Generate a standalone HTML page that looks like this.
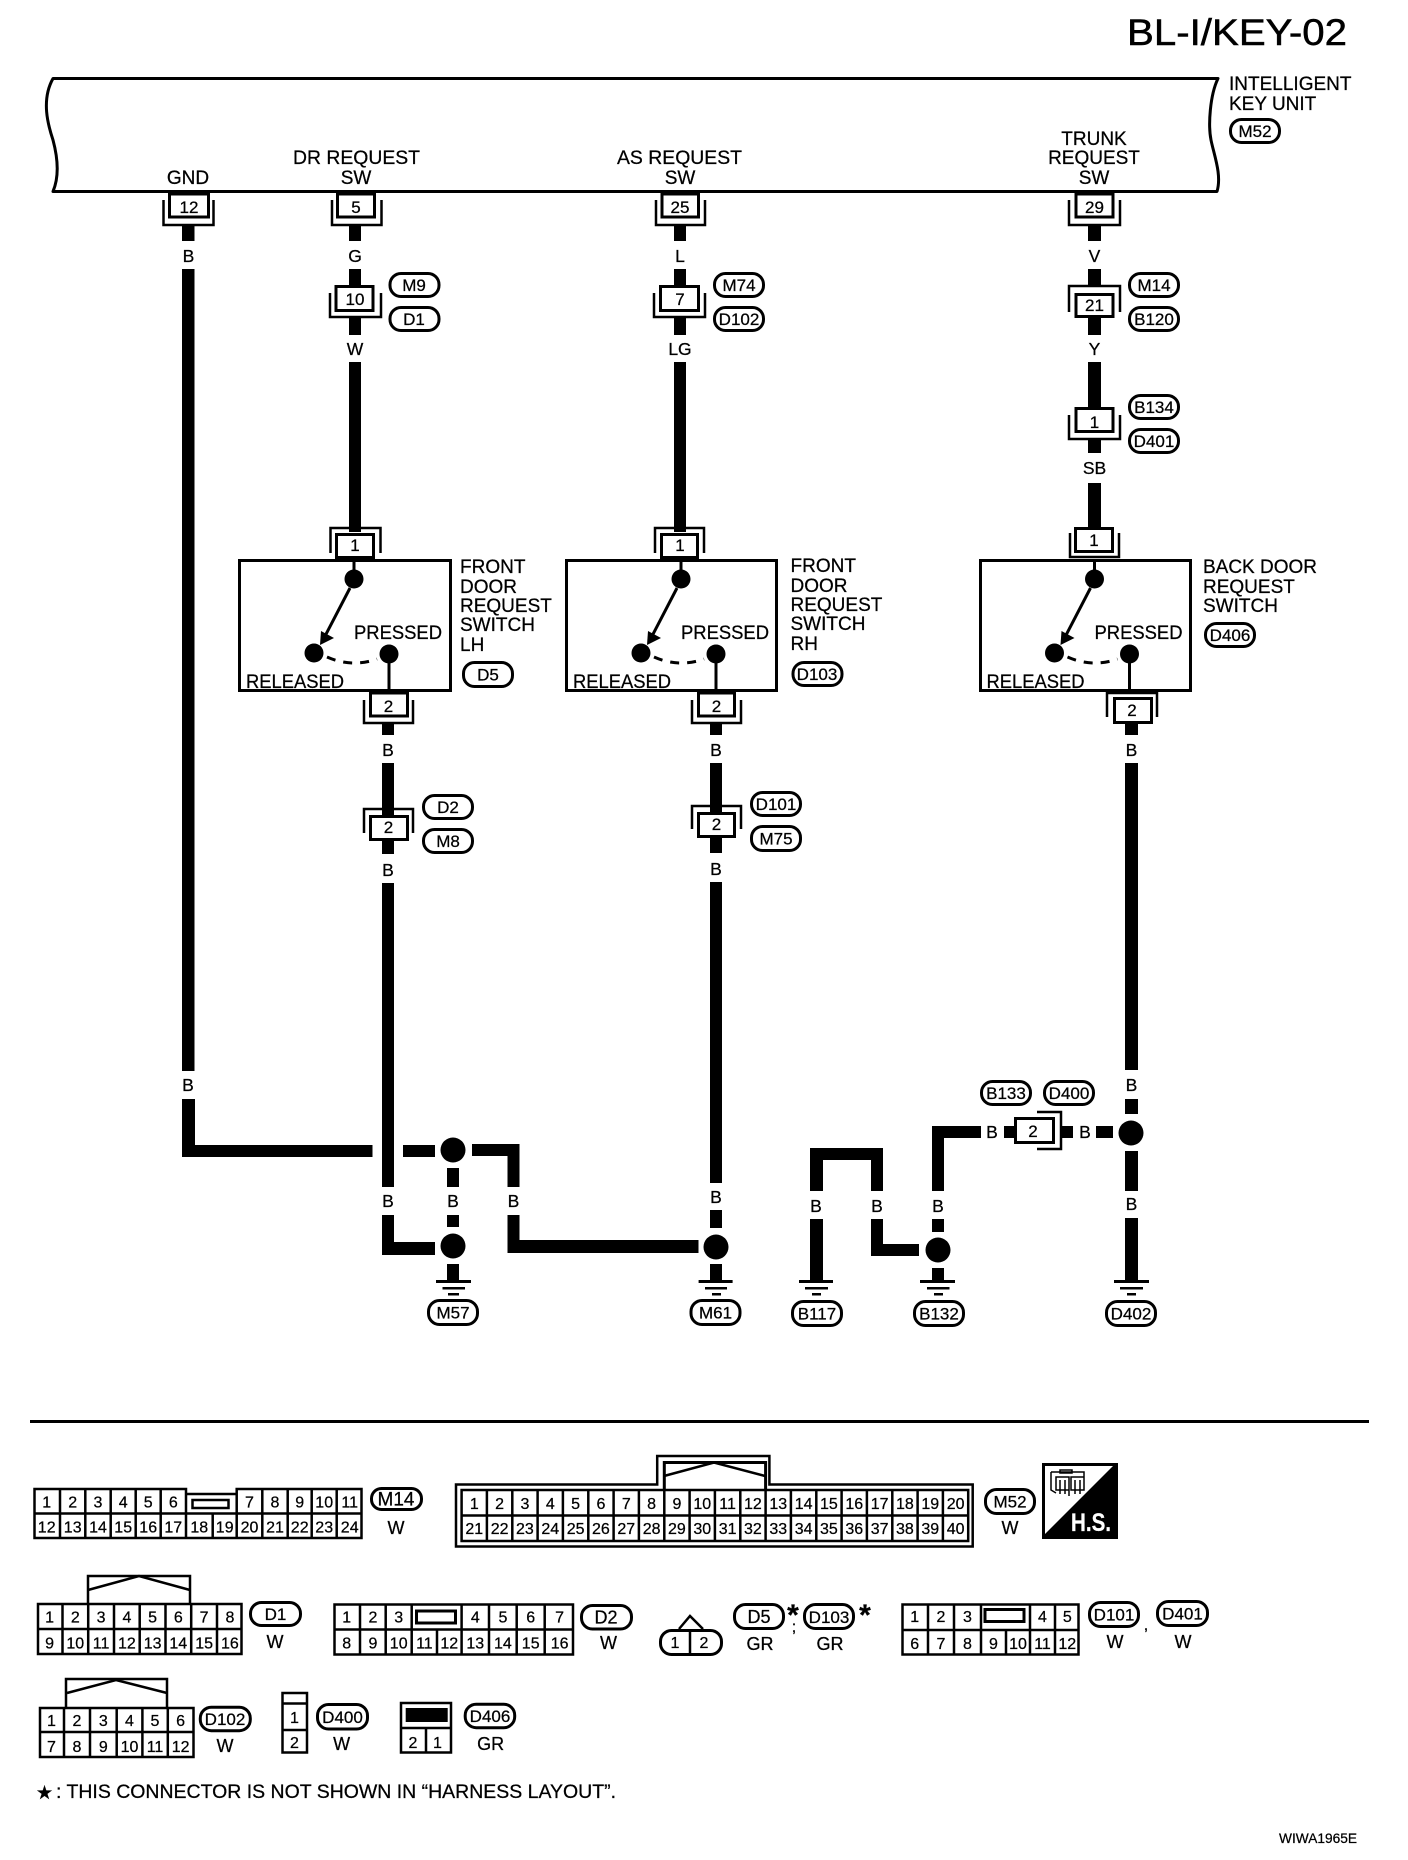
<!DOCTYPE html>
<html><head><meta charset="utf-8"><title>BL-I/KEY-02</title>
<style>
html,body{margin:0;padding:0;background:#fff;width:1408px;height:1860px;overflow:hidden}
svg{display:block}
text{font-family:"Liberation Sans","DejaVu Sans",sans-serif;fill:#000;font-size:19px;stroke:#000;stroke-width:.25px}
.m{text-anchor:middle}
.w{font-size:17.5px;text-anchor:middle}
.n{font-size:17px;text-anchor:middle}
.c{font-size:16px;text-anchor:middle}
.t{font-size:17px;text-anchor:middle}
.s{fill:none;stroke:#000;stroke-width:3}
.b{fill:#fff;stroke:#000;stroke-width:3}
.u{fill:none;stroke:#000;stroke-width:2.5}
.g{fill:none;stroke:#000;stroke-width:2.5}
.tag{fill:#fff;stroke:#000;stroke-width:3}
.st{font-size:30px;font-weight:bold;text-anchor:middle}
</style></head><body>
<svg xmlns="http://www.w3.org/2000/svg" width="1408" height="1860" viewBox="0 0 1408 1860">
<rect width="1408" height="1860" fill="#fff"/>
<text x="1127" y="45" style="font-size:37.5px;stroke-width:.5px" textLength="220" lengthAdjust="spacingAndGlyphs">BL-I/KEY-02</text>

<!-- unit -->
<path class="s" d="M53,78.5 H1218 C1210,95 1208,125 1211,140 C1214,155 1222,175 1217,191.5 H53 C60,175 57,155 53,140 C48,125 41,100 53,78.5 Z" stroke-linejoin="round"/>
<text x="188" y="184" class="m">GND</text>
<text x="293" y="164" textLength="127" lengthAdjust="spacingAndGlyphs">DR REQUEST</text>
<text x="356" y="184" class="m">SW</text>
<text x="617" y="164" textLength="125" lengthAdjust="spacingAndGlyphs">AS REQUEST</text>
<text x="680" y="184" class="m">SW</text>
<text x="1094" y="145" class="m">TRUNK</text>
<text x="1094" y="164" class="m">REQUEST</text>
<text x="1094" y="184" class="m">SW</text>
<text x="1229" y="90">INTELLIGENT</text>
<text x="1229" y="110">KEY UNIT</text>
<rect class="tag" x="1230.5" y="119.5" width="49" height="23" rx="11"/><text class="t" x="1255" y="137">M52</text>

<!-- wires -->
<g fill="#000">
<rect x="182" y="226" width="12.5" height="15"/><rect x="182" y="269" width="12.5" height="802"/><rect x="182" y="1099" width="13" height="58"/><rect x="182" y="1145" width="190.5" height="12"/><rect x="403" y="1145" width="32" height="12"/><rect x="472" y="1144" width="47.5" height="12"/><rect x="507.5" y="1144" width="12" height="43"/><rect x="507.5" y="1215" width="12" height="38"/><rect x="507.5" y="1240" width="191" height="13"/>
<rect x="349" y="226" width="12" height="15"/><rect x="349" y="269" width="12" height="16"/><rect x="349" y="318" width="12" height="17"/><rect x="349" y="362" width="12" height="170"/>
<rect x="382" y="724" width="12" height="11"/><rect x="382" y="763" width="12" height="52"/><rect x="382" y="841" width="12" height="13"/><rect x="382" y="883" width="12" height="304"/><rect x="382" y="1215" width="12" height="40"/><rect x="382" y="1242" width="53" height="13"/>
<rect x="674" y="226" width="12" height="15"/><rect x="674" y="269" width="12" height="16"/><rect x="674" y="318" width="12" height="17"/><rect x="674" y="362" width="12" height="170"/>
<rect x="710" y="724" width="12" height="11"/><rect x="710" y="763" width="12" height="49"/><rect x="710" y="838" width="12" height="15"/><rect x="710" y="882" width="12" height="301"/><rect x="710" y="1210" width="12" height="18"/><rect x="710" y="1264" width="12" height="16"/>
<rect x="1088" y="226" width="13" height="15"/><rect x="1088" y="269" width="13" height="16"/><rect x="1088" y="318" width="13" height="17"/><rect x="1088" y="362" width="13" height="45"/><rect x="1088" y="440" width="13" height="13"/><rect x="1088" y="483" width="13" height="44"/>
<rect x="1125" y="724" width="13" height="11"/><rect x="1125" y="763" width="13" height="307"/><rect x="1125" y="1099" width="13" height="15"/><rect x="1125" y="1151" width="13" height="40"/><rect x="1125" y="1218" width="13" height="63"/>
<rect x="447" y="1168" width="12" height="19"/><rect x="447" y="1215" width="12" height="12"/><rect x="447" y="1264" width="12" height="16"/>
<rect x="810" y="1148" width="73" height="12"/><rect x="810" y="1148" width="13" height="43"/><rect x="871" y="1148" width="12" height="43"/><rect x="810" y="1219" width="13" height="62"/><rect x="871" y="1219" width="12" height="37"/><rect x="871" y="1244" width="48" height="12"/>
<rect x="932" y="1219" width="12" height="13"/><rect x="932" y="1126" width="12" height="65"/><rect x="932" y="1126" width="49" height="12"/><rect x="1004" y="1126" width="11" height="12"/><rect x="1061" y="1126" width="12" height="12"/><rect x="1096" y="1126" width="17" height="12"/><rect x="932" y="1268" width="12" height="13"/>
<circle cx="453" cy="1150" r="12.5"/><circle cx="453" cy="1246" r="12.5"/><circle cx="716" cy="1247" r="12.5"/><circle cx="938" cy="1250" r="12.5"/><circle cx="1131" cy="1133" r="12.5"/>
<rect x="436" y="1280" width="35" height="3"/><rect x="442.5" y="1287" width="22.5" height="2.5"/><rect x="448" y="1293" width="11" height="2.5"/>
<rect x="698.6" y="1280" width="34" height="3"/><rect x="705" y="1287" width="22" height="2.5"/><rect x="712" y="1293" width="9" height="2.5"/>
<rect x="799" y="1280" width="34" height="3"/><rect x="805" y="1287" width="23" height="2.5"/><rect x="812" y="1293" width="9" height="2.5"/>
<rect x="920" y="1280" width="35" height="3"/><rect x="927" y="1287" width="22.5" height="2.5"/><rect x="934" y="1293" width="9" height="2.5"/>
<rect x="1114" y="1280" width="35" height="3"/><rect x="1120" y="1287" width="23" height="2.5"/><rect x="1127" y="1293" width="9" height="2.5"/>
<rect x="30" y="1420" width="1339" height="3"/>
</g>

<!-- wire colour labels -->
<text class="w" x="188.5" y="262">B</text><text class="w" x="355" y="262">G</text><text class="w" x="680" y="262">L</text><text class="w" x="1094.5" y="262">V</text>
<text class="w" x="355" y="355">W</text><text class="w" x="680" y="355">LG</text><text class="w" x="1094.5" y="355">Y</text><text class="w" x="1094.5" y="474">SB</text>
<text class="w" x="388" y="756">B</text><text class="w" x="716" y="756">B</text><text class="w" x="1131.5" y="756">B</text>
<text class="w" x="388" y="876">B</text><text class="w" x="716" y="875">B</text>
<text class="w" x="188" y="1091">B</text><text class="w" x="388" y="1207">B</text><text class="w" x="453" y="1207">B</text><text class="w" x="513.5" y="1207">B</text><text class="w" x="716" y="1203">B</text>
<text class="w" x="816" y="1212">B</text><text class="w" x="877" y="1212">B</text><text class="w" x="938" y="1212">B</text><text class="w" x="1131.5" y="1210">B</text><text class="w" x="1131.5" y="1091">B</text><text class="w" x="992" y="1138">B</text><text class="w" x="1085" y="1138">B</text>

<!-- top connectors -->
<polyline class="u" points="163.5,200 163.5,225 213.5,225 213.5,200"/><rect class="b" x="169.5" y="194" width="39" height="23"/><text class="n" x="189" y="213">12</text>
<polyline class="u" points="332,200 332,225 381.5,225 381.5,200"/><rect class="b" x="337.5" y="194" width="37" height="23"/><text class="n" x="356" y="213">5</text>
<polyline class="u" points="656,200 656,225 705,225 705,200"/><rect class="b" x="662" y="194" width="36.5" height="23"/><text class="n" x="680" y="213">25</text>
<polyline class="u" points="1069,200 1069,225 1120,225 1120,200"/><rect class="b" x="1076" y="194" width="37" height="23"/><text class="n" x="1094.5" y="213">29</text>

<polyline class="u" points="330,293 330,317 381,317 381,293"/><rect class="b" x="336" y="286.5" width="37" height="24"/><text class="n" x="355" y="305">10</text>
<polyline class="u" points="654,293 654,317 705,317 705,293"/><rect class="b" x="660.5" y="286.5" width="38" height="24"/><text class="n" x="680" y="305">7</text>
<polyline class="u" points="1069,312 1069,286 1120,286 1120,312"/><rect class="b" x="1076" y="294.5" width="37" height="22"/><text class="n" x="1094.5" y="311">21</text>
<polyline class="u" points="1069,415 1069,439 1120,439 1120,415"/><rect class="b" x="1076" y="408.5" width="37" height="23"/><text class="n" x="1094.5" y="428">1</text>

<rect class="tag" x="390" y="273.5" width="49" height="23" rx="11"/><text class="t" x="414" y="291">M9</text>
<rect class="tag" x="390" y="307.5" width="49" height="23" rx="11"/><text class="t" x="414" y="325">D1</text>
<rect class="tag" x="714.5" y="273.5" width="49" height="23" rx="11"/><text class="t" x="739" y="291">M74</text>
<rect class="tag" x="714.5" y="307.5" width="49" height="23" rx="11"/><text class="t" x="739" y="325">D102</text>
<rect class="tag" x="1129.5" y="273.5" width="49" height="23" rx="11"/><text class="t" x="1154" y="291">M14</text>
<rect class="tag" x="1129.5" y="307.5" width="49" height="23" rx="11"/><text class="t" x="1154" y="325">B120</text>
<rect class="tag" x="1129.5" y="395.5" width="49" height="23" rx="11"/><text class="t" x="1154" y="413">B134</text>
<rect class="tag" x="1129.5" y="429.5" width="49" height="23" rx="11"/><text class="t" x="1154" y="447">D401</text>

<!-- switch boxes -->
<rect class="s" x="239.5" y="560.5" width="211" height="130"/>
<rect class="s" x="566.5" y="560.5" width="210" height="130"/>
<rect class="s" x="980.5" y="560.5" width="210" height="130"/>

<g id="sw1">
<path d="M354,559V572M389,654V691" class="s"/>
<circle cx="354" cy="579" r="9.5"/><circle cx="314" cy="653" r="9.5"/><circle cx="389" cy="654" r="9.5"/>
<path class="s" d="M350,588L323,640"/><polygon points="320,645 321,631 334,638"/>
<path class="s" d="M327,657Q352,668 377,659" stroke-dasharray="9 8"/>
<text x="354" y="639" textLength="88" lengthAdjust="spacingAndGlyphs">PRESSED</text>
<text x="246" y="688" textLength="98" lengthAdjust="spacingAndGlyphs">RELEASED</text>
</g>
<g transform="translate(327,0)">
<path d="M354,559V572M389,654V691" class="s"/>
<circle cx="354" cy="579" r="9.5"/><circle cx="314" cy="653" r="9.5"/><circle cx="389" cy="654" r="9.5"/>
<path class="s" d="M350,588L323,640"/><polygon points="320,645 321,631 334,638"/>
<path class="s" d="M327,657Q352,668 377,659" stroke-dasharray="9 8"/>
<text x="354" y="639" textLength="88" lengthAdjust="spacingAndGlyphs">PRESSED</text>
<text x="246" y="688" textLength="98" lengthAdjust="spacingAndGlyphs">RELEASED</text>
</g>
<g transform="translate(740.5,0)">
<path d="M354,559V572M389,654V691" class="s"/>
<circle cx="354" cy="579" r="9.5"/><circle cx="314" cy="653" r="9.5"/><circle cx="389" cy="654" r="9.5"/>
<path class="s" d="M350,588L323,640"/><polygon points="320,645 321,631 334,638"/>
<path class="s" d="M327,657Q352,668 377,659" stroke-dasharray="9 8"/>
<text x="354" y="639" textLength="88" lengthAdjust="spacingAndGlyphs">PRESSED</text>
<text x="246" y="688" textLength="98" lengthAdjust="spacingAndGlyphs">RELEASED</text>
</g>

<polyline class="u" points="330.5,553 330.5,528 380.5,528 380.5,553"/><rect class="b" x="336.5" y="534.5" width="37" height="23"/><text class="n" x="355" y="551">1</text>
<polyline class="u" points="655,553 655,528 704,528 704,553"/><rect class="b" x="661.5" y="534.5" width="36" height="23"/><text class="n" x="680" y="551">1</text>
<polyline class="u" points="1070,533 1070,557 1119,557 1119,533"/><rect class="b" x="1075.5" y="528.5" width="37" height="23"/><text class="n" x="1094" y="546">1</text>

<polyline class="u" points="364,700 364,723 413,723 413,700"/><rect class="b" x="370.5" y="693" width="37" height="23"/><text class="n" x="388.5" y="712">2</text>
<polyline class="u" points="692,700 692,723 741,723 741,700"/><rect class="b" x="698.5" y="693" width="36" height="23"/><text class="n" x="716.5" y="712">2</text>
<polyline class="u" points="1107,717 1107,693 1157,693 1157,717"/><rect class="b" x="1114.5" y="698.5" width="37" height="24"/><text class="n" x="1132" y="716">2</text>
<polyline class="u" points="364,833 364,809 413,809 413,833"/><rect class="b" x="370.5" y="816.5" width="37" height="23"/><text class="n" x="388.5" y="833">2</text>
<polyline class="u" points="692,829 692,806 741,806 741,829"/><rect class="b" x="698.5" y="813.5" width="36" height="23"/><text class="n" x="716.5" y="830">2</text>
<polyline class="u" points="1037,1112 1061,1112 1061,1149 1037,1149"/><rect class="b" x="1015.5" y="1118.5" width="38" height="24"/><text class="n" x="1033" y="1137">2</text>

<text x="460" y="573">FRONT</text><text x="460" y="593">DOOR</text><text x="460" y="612">REQUEST</text><text x="460" y="631">SWITCH</text><text x="460" y="651">LH</text>
<rect class="tag" x="463.5" y="662.5" width="49" height="24" rx="11"/><text class="t" x="488" y="680.5">D5</text>
<text x="790.5" y="572">FRONT</text><text x="790.5" y="592">DOOR</text><text x="790.5" y="611">REQUEST</text><text x="790.5" y="630">SWITCH</text><text x="790.5" y="650">RH</text>
<rect class="tag" x="793" y="662.5" width="49" height="23" rx="11"/><text class="t" x="817" y="680">D103</text>
<text x="1203" y="573" textLength="114" lengthAdjust="spacingAndGlyphs">BACK DOOR</text><text x="1203" y="593">REQUEST</text><text x="1203" y="612">SWITCH</text>
<rect class="tag" x="1205.5" y="623.5" width="49" height="23" rx="11"/><text class="t" x="1230" y="641">D406</text>

<rect class="tag" x="423.5" y="795.5" width="49" height="23" rx="11"/><text class="t" x="448" y="813">D2</text>
<rect class="tag" x="423.5" y="829.5" width="49" height="23" rx="11"/><text class="t" x="448" y="847">M8</text>
<rect class="tag" x="751.5" y="792.5" width="49" height="23" rx="11"/><text class="t" x="776" y="810">D101</text>
<rect class="tag" x="751.5" y="826.5" width="49" height="24" rx="11"/><text class="t" x="776" y="844.5">M75</text>
<rect class="tag" x="981.5" y="1081.5" width="49" height="23" rx="11"/><text class="t" x="1006" y="1099">B133</text>
<rect class="tag" x="1044.5" y="1081.5" width="49" height="23" rx="11"/><text class="t" x="1069" y="1099">D400</text>
<rect class="tag" x="428.5" y="1300.5" width="49" height="24" rx="11"/><text class="t" x="453" y="1318.5">M57</text>
<rect class="tag" x="691" y="1300.5" width="49" height="24" rx="11"/><text class="t" x="715.5" y="1318.5">M61</text>
<rect class="tag" x="792.5" y="1301.5" width="49" height="24" rx="11"/><text class="t" x="817" y="1319.5">B117</text>
<rect class="tag" x="914.5" y="1301.5" width="49" height="24" rx="11"/><text class="t" x="939" y="1319.5">B132</text>
<rect class="tag" x="1106.5" y="1301.5" width="49" height="24" rx="11"/><text class="t" x="1131" y="1319.5">D402</text>

<!-- M14 connector -->
<path class="g" stroke-width="3" d="M34.5,1538V1489H186V1494H236.7V1489H361.5V1538ZM34.5,1513.5H361.5M60,1489V1538M85.3,1489V1538M110.7,1489V1538M135.7,1489V1538M160.7,1489V1538M186,1489V1538M212.7,1513.5V1538M236.7,1489V1538M262.3,1489V1538M287.7,1489V1538M311.7,1489V1538M336.7,1489V1538"/>
<rect class="g" x="192.5" y="1500" width="36" height="8"/>
<text class="c" x="46.7" y="1507.5">1</text><text class="c" x="72.7" y="1507.5">2</text><text class="c" x="98" y="1507.5">3</text><text class="c" x="123.2" y="1507.5">4</text><text class="c" x="148.2" y="1507.5">5</text><text class="c" x="173.3" y="1507.5">6</text><text class="c" x="249.5" y="1507.5">7</text><text class="c" x="275" y="1507.5">8</text><text class="c" x="299.7" y="1507.5">9</text><text class="c" x="324.2" y="1507.5">10</text><text class="c" x="349.7" y="1507.5">11</text>
<text class="c" x="46.7" y="1532.5">12</text><text class="c" x="72.7" y="1532.5">13</text><text class="c" x="98" y="1532.5">14</text><text class="c" x="123.2" y="1532.5">15</text><text class="c" x="148.2" y="1532.5">16</text><text class="c" x="173.3" y="1532.5">17</text><text class="c" x="199.3" y="1532.5">18</text><text class="c" x="224.7" y="1532.5">19</text><text class="c" x="249.5" y="1532.5">20</text><text class="c" x="275" y="1532.5">21</text><text class="c" x="299.7" y="1532.5">22</text><text class="c" x="324.2" y="1532.5">23</text><text class="c" x="349.7" y="1532.5">24</text>
<rect class="tag" x="371.5" y="1488.5" width="50" height="21" rx="10"/><text class="t" x="396" y="1505.5" style="font-size:19px">M14</text>
<text class="t" x="396" y="1534" style="font-size:18px">W</text>

<!-- M52 connector -->
<path class="g" d="M456,1546.5V1484.5H657.2V1456H769.4V1484.5H972.7V1546.5Z"/>
<path class="s" d="M664.3,1490V1462.5H765.6V1490"/>
<path class="g" d="M664,1476L714,1462.5L765,1476" stroke-width="3"/>
<path class="g" d="M461.6,1490H968.2V1541H461.6ZM461.6,1515.5H968.2M486.9,1490V1541M512.3,1490V1541M537.6,1490V1541M562.9,1490V1541M588.3,1490V1541M613.6,1490V1541M638.9,1490V1541M664.3,1490V1541M689.6,1490V1541M714.9,1490V1541M740.3,1490V1541M765.6,1490V1541M790.9,1490V1541M816.3,1490V1541M841.6,1490V1541M866.9,1490V1541M892.3,1490V1541M917.6,1490V1541M942.9,1490V1541"/>
<text class="c" x="474.3" y="1509">1</text><text class="c" x="499.6" y="1509">2</text><text class="c" x="524.9" y="1509">3</text><text class="c" x="550.3" y="1509">4</text><text class="c" x="575.6" y="1509">5</text><text class="c" x="600.9" y="1509">6</text><text class="c" x="626.3" y="1509">7</text><text class="c" x="651.6" y="1509">8</text><text class="c" x="676.9" y="1509">9</text><text class="c" x="702.3" y="1509">10</text><text class="c" x="727.6" y="1509">11</text><text class="c" x="752.9" y="1509">12</text><text class="c" x="778.3" y="1509">13</text><text class="c" x="803.6" y="1509">14</text><text class="c" x="828.9" y="1509">15</text><text class="c" x="854.3" y="1509">16</text><text class="c" x="879.6" y="1509">17</text><text class="c" x="904.9" y="1509">18</text><text class="c" x="930.3" y="1509">19</text><text class="c" x="955.6" y="1509">20</text>
<text class="c" x="474.3" y="1534">21</text><text class="c" x="499.6" y="1534">22</text><text class="c" x="524.9" y="1534">23</text><text class="c" x="550.3" y="1534">24</text><text class="c" x="575.6" y="1534">25</text><text class="c" x="600.9" y="1534">26</text><text class="c" x="626.3" y="1534">27</text><text class="c" x="651.6" y="1534">28</text><text class="c" x="676.9" y="1534">29</text><text class="c" x="702.3" y="1534">30</text><text class="c" x="727.6" y="1534">31</text><text class="c" x="752.9" y="1534">32</text><text class="c" x="778.3" y="1534">33</text><text class="c" x="803.6" y="1534">34</text><text class="c" x="828.9" y="1534">35</text><text class="c" x="854.3" y="1534">36</text><text class="c" x="879.6" y="1534">37</text><text class="c" x="904.9" y="1534">38</text><text class="c" x="930.3" y="1534">39</text><text class="c" x="955.6" y="1534">40</text>
<rect class="tag" x="985.5" y="1489.5" width="49" height="24" rx="11"/><text class="t" x="1010" y="1507.5">M52</text>
<text class="t" x="1010" y="1534" style="font-size:18px">W</text>

<!-- H.S. -->
<rect x="1042" y="1463" width="76" height="76" fill="#000"/>
<polygon points="1045,1466 1113,1466 1045,1534" fill="#fff"/>
<path fill="none" stroke="#000" stroke-width="1.5" d="M1051,1472H1084V1490M1051,1472V1490L1056,1493M1056,1477H1069V1490H1056ZM1071,1477H1084V1490H1071ZM1060,1470h12v3h-12zM1060,1480v14M1065,1480v14M1075,1480v14M1080,1480v14M1069,1490v6"/>
<text x="1071" y="1531" style="fill:#fff;stroke:#fff;font-size:25px;font-weight:bold" textLength="40" lengthAdjust="spacingAndGlyphs">H.S.</text>

<!-- D1 connector -->
<path class="g" d="M88,1604V1576H190V1604"/>
<path class="g" d="M88,1590L139,1576L190,1590" stroke-width="3"/>
<path class="g" stroke-width="3" d="M38,1604H241.5V1654H38ZM38,1629H241.5M62.5,1604V1654M88.2,1604V1654M114,1604V1654M139.7,1604V1654M165.5,1604V1654M191.2,1604V1654M217,1604V1654"/>
<text class="c" x="49.6" y="1622.5">1</text><text class="c" x="75.3" y="1622.5">2</text><text class="c" x="101.1" y="1622.5">3</text><text class="c" x="126.9" y="1622.5">4</text><text class="c" x="152.6" y="1622.5">5</text><text class="c" x="178.3" y="1622.5">6</text><text class="c" x="204.1" y="1622.5">7</text><text class="c" x="229.9" y="1622.5">8</text>
<text class="c" x="49.6" y="1648.5">9</text><text class="c" x="75.3" y="1648.5">10</text><text class="c" x="101.1" y="1648.5">11</text><text class="c" x="126.9" y="1648.5">12</text><text class="c" x="152.6" y="1648.5">13</text><text class="c" x="178.3" y="1648.5">14</text><text class="c" x="204.1" y="1648.5">15</text><text class="c" x="229.9" y="1648.5">16</text>
<rect class="tag" x="250.5" y="1602.5" width="50" height="23" rx="11"/><text class="t" x="275.5" y="1620">D1</text>
<text class="t" x="275" y="1648" style="font-size:18px">W</text>

<!-- D2 connector -->
<path class="g" stroke-width="3" d="M334.5,1604.5H573V1654.5H334.5ZM334.5,1629.5H573M360,1604.5V1654.5M385.7,1604.5V1654.5M411.7,1604.5V1654.5M437,1629.5V1654.5M461.6,1604.5V1654.5M489,1604.5V1654.5M516.7,1604.5V1654.5M544.7,1604.5V1654.5"/>
<rect class="s" x="416.5" y="1611" width="39" height="12"/>
<text class="c" x="346.7" y="1622.5">1</text><text class="c" x="372.9" y="1622.5">2</text><text class="c" x="398.7" y="1622.5">3</text><text class="c" x="475.3" y="1622.5">4</text><text class="c" x="502.9" y="1622.5">5</text><text class="c" x="530.7" y="1622.5">6</text><text class="c" x="559.6" y="1622.5">7</text>
<text class="c" x="346.7" y="1648.5">8</text><text class="c" x="372.9" y="1648.5">9</text><text class="c" x="398.7" y="1648.5">10</text><text class="c" x="424.4" y="1648.5">11</text><text class="c" x="449.3" y="1648.5">12</text><text class="c" x="475.3" y="1648.5">13</text><text class="c" x="502.9" y="1648.5">14</text><text class="c" x="530.7" y="1648.5">15</text><text class="c" x="559.6" y="1648.5">16</text>
<rect class="tag" x="581.5" y="1605.5" width="50" height="23.5" rx="11"/><text class="t" x="606" y="1623.5" style="font-size:18px">D2</text>
<text class="t" x="608.5" y="1649" style="font-size:18px">W</text>

<!-- 1 2 connector -->
<rect class="tag" x="660.5" y="1630.5" width="61" height="24" rx="11"/>
<path class="g" d="M690,1630V1655M679,1629L690,1616L703,1629"/>
<text class="c" x="675" y="1648">1</text><text class="c" x="704" y="1648">2</text>
<rect class="tag" x="734.5" y="1604.5" width="49" height="24" rx="11"/><text class="t" x="759" y="1623" style="font-size:18px">D5</text>
<text class="st" x="793" y="1625">*</text><text class="c" x="794" y="1632">;</text>
<rect class="tag" x="804.5" y="1604.5" width="49" height="24" rx="11"/><text class="t" x="829" y="1623">D103</text>
<text class="st" x="865" y="1625">*</text>
<text class="t" x="760" y="1650" style="font-size:18px">GR</text><text class="t" x="830" y="1650" style="font-size:18px">GR</text>

<!-- D101 connector -->
<path class="g" stroke-width="3" d="M902.5,1604.5H1078.5V1654.5H902.5ZM902.5,1630H1078.5M928,1604.5V1654.5M954,1604.5V1654.5M981,1604.5V1654.5M1006,1630V1654.5M1030,1604.5V1654.5M1055,1604.5V1654.5"/>
<rect class="s" x="985" y="1609.5" width="39" height="12"/>
<text class="c" x="914.7" y="1622">1</text><text class="c" x="941" y="1622">2</text><text class="c" x="967.5" y="1622">3</text><text class="c" x="1042.5" y="1622">4</text><text class="c" x="1067.3" y="1622">5</text>
<text class="c" x="914.7" y="1649">6</text><text class="c" x="941" y="1649">7</text><text class="c" x="967.5" y="1649">8</text><text class="c" x="993.5" y="1649">9</text><text class="c" x="1018" y="1649">10</text><text class="c" x="1042.5" y="1649">11</text><text class="c" x="1067.3" y="1649">12</text>
<rect class="tag" x="1089.5" y="1602.5" width="49" height="24" rx="11"/><text class="t" x="1114" y="1620.5">D101</text>
<text class="c" x="1146" y="1630">,</text>
<rect class="tag" x="1157.5" y="1601.5" width="50" height="24" rx="11"/><text class="t" x="1182.5" y="1619.5">D401</text>
<text class="t" x="1115" y="1648" style="font-size:18px">W</text><text class="t" x="1183" y="1648" style="font-size:18px">W</text>

<!-- D102 connector -->
<path class="g" d="M66,1707V1679H167V1707"/>
<path class="g" d="M67,1693L116,1680L167,1693" stroke-width="3"/>
<path class="g" stroke-width="3" d="M40,1708H193.5V1757H40ZM40,1732H193.5M64,1708V1757M90,1708V1757M116.7,1708V1757M142.4,1708V1757M167.8,1708V1757"/>
<text class="c" x="51.5" y="1726">1</text><text class="c" x="77" y="1726">2</text><text class="c" x="103.3" y="1726">3</text><text class="c" x="129.5" y="1726">4</text><text class="c" x="155" y="1726">5</text><text class="c" x="180.6" y="1726">6</text>
<text class="c" x="51.5" y="1752">7</text><text class="c" x="77" y="1752">8</text><text class="c" x="103.3" y="1752">9</text><text class="c" x="129.5" y="1752">10</text><text class="c" x="155" y="1752">11</text><text class="c" x="180.6" y="1752">12</text>
<rect class="tag" x="200.3" y="1707.2" width="50" height="23.5" rx="11"/><text class="t" x="225" y="1725">D102</text>
<text class="t" x="225" y="1752" style="font-size:18px">W</text>

<!-- D400 connector -->
<path class="g" stroke-width="3" d="M282.5,1693H307V1752.5H282.5ZM282.5,1703.5H307M282.5,1730H307"/>
<text class="c" x="294.5" y="1723">1</text><text class="c" x="294.5" y="1748">2</text>
<rect class="tag" x="317.5" y="1704.5" width="50" height="24.5" rx="11"/><text class="t" x="342.5" y="1723">D400</text>
<text class="t" x="341.6" y="1750" style="font-size:18px">W</text>

<!-- D406 connector -->
<path class="g" stroke-width="3" d="M401,1703H451V1752.5H401ZM401,1728H451M426,1728V1752.5"/>
<rect x="405.7" y="1708" width="42" height="14"/>
<text class="c" x="413" y="1748">2</text><text class="c" x="437.5" y="1748">1</text>
<rect class="tag" x="465.2" y="1704.2" width="49.5" height="23.5" rx="11"/><text class="t" x="490" y="1722">D406</text>
<text class="t" x="490.6" y="1750" style="font-size:18px">GR</text>

<text x="36" y="1799" style="font-size:19px">★</text>
<text x="56" y="1798" textLength="560" lengthAdjust="spacingAndGlyphs">: THIS CONNECTOR IS NOT SHOWN IN “HARNESS LAYOUT”.</text>
<text x="1279" y="1843" style="font-size:14px" textLength="78" lengthAdjust="spacingAndGlyphs">WIWA1965E</text>
</svg>
</body></html>
